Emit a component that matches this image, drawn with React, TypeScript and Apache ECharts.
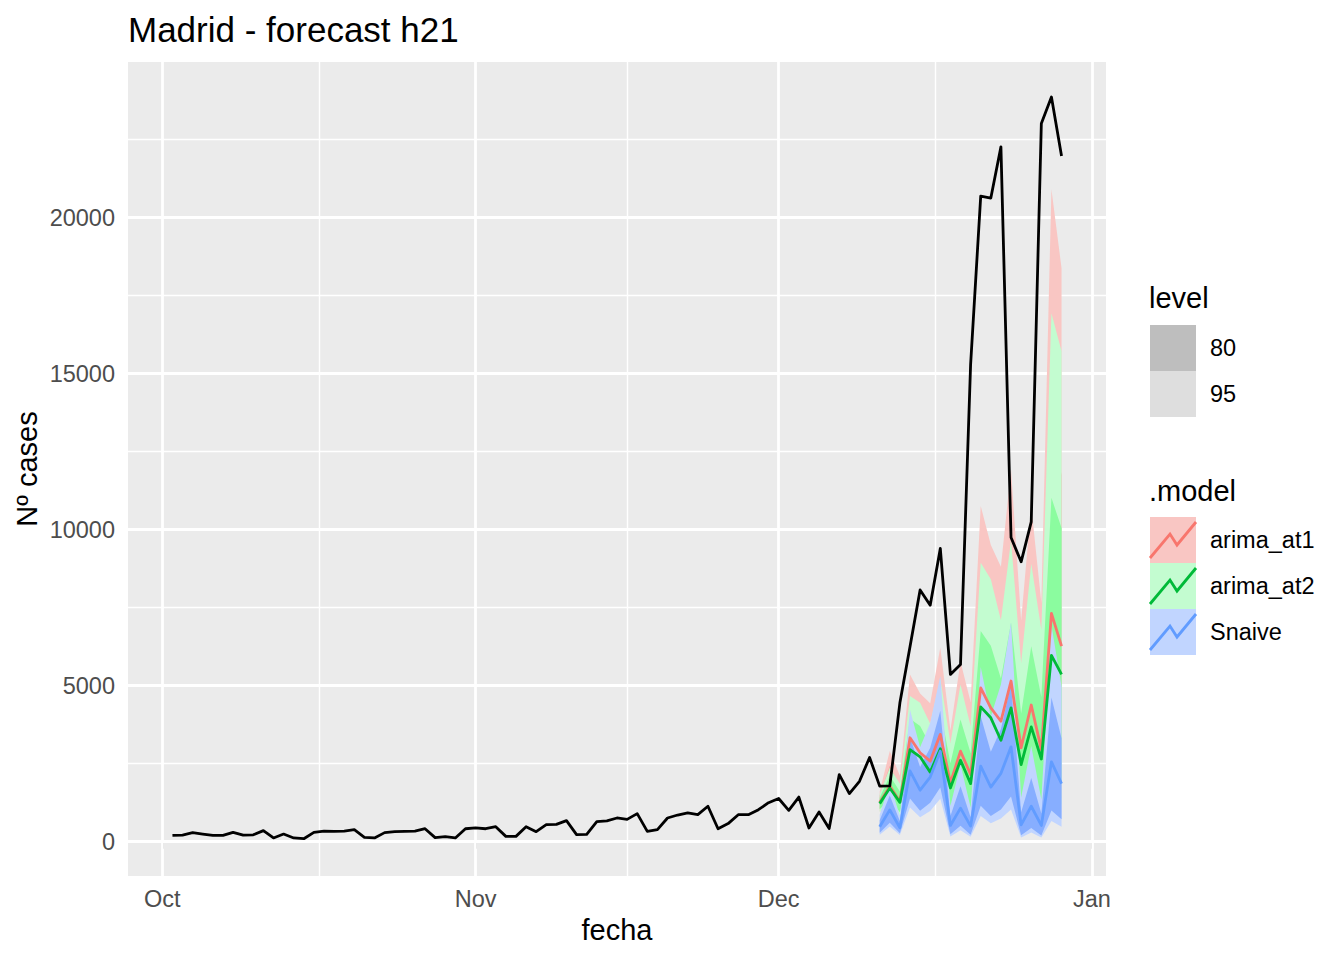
import React, { useEffect, useRef } from 'react';
import * as echarts from 'echarts';

// ---- axes / breaks (day 0 = 1 Oct 2020) ----
const monthTicks = [0, 31, 61, 92];
const monthLabels = ['Oct', 'Nov', 'Dec', 'Jan'];
const minorXBreaks = [15.5, 46, 76.5];
const yMajor = [0, 5000, 10000, 15000, 20000];
const yMinor = [2500, 7500, 12500, 17500, 22500];

// ---- observed cases, daily from 2 Oct (day 1) ----
const actualFirstDay = 1;
const actualCases = [
  200, 210, 290, 245, 200, 205, 300, 210, 220, 355,
  120, 245, 120, 95, 300, 340, 330, 340, 385, 140,
  120, 290, 320, 330, 340, 415, 130, 160, 120, 415,
  440, 415, 480, 170, 170, 480, 320, 545, 555, 675,
  225, 235, 640, 665, 760, 715, 900, 330, 385, 760,
  855, 920, 865, 1135, 415, 580, 865, 865, 1025, 1250,
  1385, 1005, 1430, 440, 950, 420, 2150, 1540, 1935, 2700,
  1780, 1790, 4450, 6250, 8070, 7580, 9400, 5360, 5680, 15300,
  20690, 20630, 22270, 9750, 8970, 10250, 23020, 23870, 21980,
];

// ---- forecasts, daily from 11 Dec (day 71) ----
const forecastFirstDay = 71;
const at1Mean = [1260, 1780, 1290, 3330, 2850, 2580, 3440, 1880, 2900, 2150, 4930, 4290, 3860, 5150, 3010, 4380, 2950, 7320, 6270];
const at1Hi95 = [1610, 2910, 2110, 5360, 4750, 4440, 6220, 3570, 5770, 4480, 10760, 9510, 8810, 11930, 7080, 10760, 7660, 20910, 18380];
const at1Hi80 = [1480, 2430, 1760, 4490, 3920, 3620, 4970, 2800, 4430, 3370, 7930, 6960, 6370, 8560, 5040, 7510, 5210, 13550, 11750];
const at1Lo80 = [1060, 1210, 880, 2310, 1920, 1680, 2130, 1110, 1630, 1150, 2500, 2140, 1860, 2440, 1400, 1930, 1210, 2630, 2160];
const at1Lo95 = [970, 1010, 730, 1940, 1580, 1370, 1710, 870, 1250, 860, 1840, 1570, 1340, 1750, 1000, 1350, 820, 1700, 1390];

const at2Mean = [1220, 1720, 1260, 2950, 2720, 2230, 2980, 1720, 2610, 1860, 4320, 3970, 3250, 4290, 2470, 3680, 2650, 5970, 5360];
const at2Hi95 = [1530, 2370, 1860, 4670, 4450, 3780, 5220, 3160, 5040, 3700, 8940, 8410, 7100, 9650, 5720, 8910, 6790, 16940, 15720];
const at2Hi80 = [1410, 2110, 1610, 3940, 3710, 3100, 4230, 2510, 3920, 2840, 6750, 6280, 5230, 7020, 4110, 6260, 4640, 11020, 10050];
const at2Lo80 = [1040, 1360, 940, 2080, 1860, 1470, 1910, 1050, 1520, 1050, 2330, 2080, 1650, 2100, 1170, 1650, 1110, 2160, 1850];
const at2Lo95 = [960, 1210, 820, 1750, 1550, 1210, 1550, 830, 1180, 800, 1760, 1560, 1220, 1530, 840, 1160, 760, 1400, 1190];

const snaiveMean = [480, 1020, 445, 2270, 1650, 2070, 2900, 520, 1075, 500, 2420, 1750, 2190, 3040, 540, 1135, 520, 2560, 1860];
const snaiveHi95 = [865, 1870, 825, 4230, 3030, 3800, 5310, 1145, 2470, 1095, 5600, 4010, 5040, 7030, 1420, 3070, 1355, 6940, 4970];
const snaiveHi80 = [685, 1480, 655, 3345, 2395, 3010, 4200, 820, 1775, 785, 4020, 2880, 3615, 5045, 945, 2045, 905, 4625, 3315];
const snaiveLo80 = [285, 610, 270, 1380, 990, 1245, 1735, 235, 510, 225, 1150, 825, 1035, 1445, 205, 440, 195, 1000, 715];
const snaiveLo95 = [225, 485, 215, 1095, 785, 985, 1375, 170, 365, 160, 825, 590, 745, 1035, 135, 295, 130, 665, 475];

const modelNames = ['arima_at1', 'arima_at2', 'Snaive'];
const levelNames = ['80', '95'];

const FONT = '"Liberation Sans", Arial, Helvetica, sans-serif';

const toPts = (arr: number[], first: number) => arr.map((v, i) => [first + i, v]);

// band = invisible lower line + stacked (hi - lo) filled area.
// Values are stored first in each row so that the stack runs along the y axis.
function band(id: string, lo: number[], hi: number[], color: string) {
  return [
    {
      type: 'line', name: id + '_lo', stack: id, silent: true, symbol: 'none',
      encode: { x: 1, y: 0 },
      data: lo.map((v, i) => [v, forecastFirstDay + i]),
      lineStyle: { width: 0, opacity: 0 },
    },
    {
      type: 'line', name: id + '_hi', stack: id, silent: true, symbol: 'none',
      encode: { x: 1, y: 0 },
      data: hi.map((v, i) => [v - lo[i], forecastFirstDay + i]),
      lineStyle: { width: 0, opacity: 0 },
      areaStyle: { color, opacity: 1 },
    },
  ];
}

function lineSeries(name: string, arr: number[], first: number, color: string) {
  return {
    type: 'line', name, silent: true, symbol: 'none', showSymbol: false,
    data: toPts(arr, first),
    lineStyle: { color, width: 2.8, join: 'round' },
  };
}

export default function App() {
  const ref = useRef<HTMLDivElement>(null);
  useEffect(() => {
    document.body.style.margin = '0';
    const chart = echarts.init(ref.current!, null, { renderer: 'svg' });

    const gridLines: any[] = [
      ...yMinor.map((v) => ({ yAxis: v, lineStyle: { color: '#FFFFFF', width: 1.4, type: 'solid' } })),
      ...minorXBreaks.map((v) => ({ xAxis: v, lineStyle: { color: '#FFFFFF', width: 1.4, type: 'solid' } })),
      ...yMajor.map((v) => ({ yAxis: v, lineStyle: { color: '#FFFFFF', width: 2.8, type: 'solid' } })),
      ...monthTicks.map((v) => ({ xAxis: v, lineStyle: { color: '#FFFFFF', width: 2.8, type: 'solid' } })),
    ];

    const legendKey = (y: number, fill: string, stroke: string) => [
      { type: 'rect', shape: { x: 1150, y, width: 46, height: 46 }, style: { fill } },
      {
        type: 'polyline',
        shape: { points: [[1150, y + 41], [1170, y + 17], [1177, y + 28], [1196, y + 5]] },
        style: { stroke, lineWidth: 2.8, fill: 'none' },
      },
    ];
    const txt = (text: string, x: number, y: number, size: number, color = '#000', align = 'left', rotation = 0) => ({
      type: 'text', x, y, rotation,
      style: { text, fill: color, fontSize: size, fontFamily: FONT, align, verticalAlign: 'middle' },
    });

    const option: any = {
      animation: false,
      textStyle: { fontFamily: FONT },
      grid: { left: 128, top: 62, width: 978, height: 814, show: true, backgroundColor: '#EBEBEB', borderWidth: 0 },
      xAxis: {
        type: 'value', min: -3.4, max: 93.4,
        axisLine: { show: false },
        splitLine: { show: false },
        axisTick: { show: true, customValues: monthTicks, length: 7, lineStyle: { color: '#333333', width: 2 } },
        axisLabel: {
          customValues: monthTicks, color: '#4D4D4D', fontSize: 23.5, margin: 11,
          formatter: (v: number) => { const i = monthTicks.indexOf(v); return i >= 0 ? monthLabels[i] : ''; },
        },
      },
      yAxis: {
        type: 'value', min: -1100, max: 24990,
        axisLine: { show: false },
        splitLine: { show: false },
        axisTick: { show: true, customValues: yMajor, length: 7, lineStyle: { color: '#333333', width: 2 } },
        axisLabel: {
          customValues: yMajor, color: '#4D4D4D', fontSize: 23.5, margin: 13,
          formatter: (v: number) => String(v),
        },
      },
      series: [
        {
          type: 'line', name: 'grid', data: [], silent: true,
          markLine: { silent: true, z: 1, symbol: ['none', 'none'], label: { show: false }, emphasis: { disabled: true }, data: gridLines },
        },
        ...band('at1_95', at1Lo95, at1Hi95, '#F9C6C3'),
        ...band('at1_80', at1Lo80, at1Hi80, '#F6A6A0'),
        ...band('at2_95', at2Lo95, at2Hi95, '#C3FCD0'),
        ...band('at2_80', at2Lo80, at2Hi80, '#8BFC9F'),
        ...band('sn_95', snaiveLo95, snaiveHi95, '#C1D5FF'),
        ...band('sn_80', snaiveLo80, snaiveHi80, '#87AEFF'),
        lineSeries(modelNames[0], at1Mean, forecastFirstDay, '#F8766D'),
        lineSeries(modelNames[1], at2Mean, forecastFirstDay, '#00BA38'),
        lineSeries(modelNames[2], snaiveMean, forecastFirstDay, '#619CFF'),
        lineSeries('cases', actualCases, actualFirstDay, '#000000'),
      ],
      graphic: [
        txt('Madrid - forecast h21', 128, 29, 35),
        txt('fecha', 617, 930, 29, '#000', 'center'),
        txt('Nº cases', 27, 469, 29, '#000', 'center', Math.PI / 2),
        txt('level', 1149, 298, 29),
        { type: 'rect', shape: { x: 1150, y: 325, width: 46, height: 46 }, style: { fill: '#BEBEBE' } },
        { type: 'rect', shape: { x: 1150, y: 371, width: 46, height: 46 }, style: { fill: '#DEDEDE' } },
        txt(levelNames[0], 1210, 348, 23.5),
        txt(levelNames[1], 1210, 394, 23.5),
        txt('.model', 1149, 491, 29),
        ...legendKey(517, '#F9C6C3', '#F8766D'),
        ...legendKey(563, '#C3FCD0', '#00BA38'),
        ...legendKey(609, '#C1D5FF', '#619CFF'),
        txt(modelNames[0], 1210, 540, 23.5),
        txt(modelNames[1], 1210, 586, 23.5),
        txt(modelNames[2], 1210, 632, 23.5),
      ],
    };
    chart.setOption(option);
    return () => chart.dispose();
  }, []);
  return <div ref={ref} style={{ width: 1344, height: 960 }} />;
}
